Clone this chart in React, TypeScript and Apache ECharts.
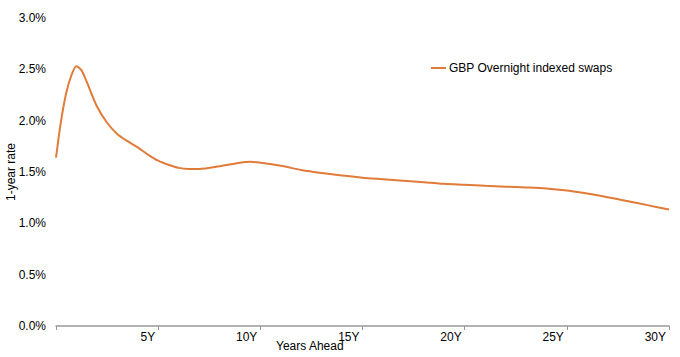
import React, { useEffect, useRef } from "react";
import * as echarts from "echarts";

const years = [0, 0.25, 0.5, 0.75, 1, 1.25, 1.5, 2, 2.5, 3, 3.5, 4, 4.5, 5, 5.5, 6, 6.5, 7, 8, 9, 9.5, 10, 11, 12, 13, 14, 15, 16, 17, 18, 19, 20, 21, 22, 23, 24, 25, 26, 27, 28, 29, 30];
const rates = [1.64, 2.0, 2.27, 2.44, 2.53, 2.49, 2.38, 2.14, 1.98, 1.87, 1.8, 1.74, 1.67, 1.61, 1.57, 1.54, 1.53, 1.53, 1.555, 1.59, 1.6, 1.59, 1.56, 1.52, 1.49, 1.465, 1.445, 1.43, 1.415, 1.4, 1.385, 1.375, 1.365, 1.357, 1.35, 1.34, 1.32, 1.29, 1.255, 1.215, 1.175, 1.135];
const seriesName = "GBP Overnight indexed swaps";
const xTicks = [0, 5, 10, 15, 20, 25, 30];
const yTicks = [0, 0.5, 1.0, 1.5, 2.0, 2.5, 3.0];

export default function App() {
  const ref = useRef<HTMLDivElement>(null);
  useEffect(() => {
    if (!ref.current) return;
    const chart = echarts.init(ref.current, undefined, { renderer: "svg" });
    const font = "'Liberation Sans', Arial, sans-serif";
    chart.setOption({
      animation: false,
      grid: { left: 56, right: 11, top: 18, bottom: 31, containLabel: false, outerBoundsMode: "none" },
      legend: {
        left: 426,
        top: 57,
        icon: "rect",
        itemWidth: 15,
        itemHeight: 2,
        itemGap: 4,
        textStyle: { fontFamily: font, fontSize: 12, color: "#000", padding: [0, 0, 0, -2] },
        data: [seriesName],
      },
      xAxis: {
        type: "value",
        min: xTicks[0],
        max: xTicks[xTicks.length - 1],
        interval: 5,
        axisLine: { show: true, lineStyle: { color: "#999", width: 1.5 } },
        axisTick: { show: true, length: 4, lineStyle: { color: "#999" } },
        splitLine: { show: false },
        axisLabel: {
          fontFamily: font,
          fontSize: 12,
          color: "#000",
          align: "right",
          padding: [0, 3, 0, 0],
          margin: 5,
          formatter: (v: number) => (v === 0 ? "" : `${v}Y`),
        },
      },
      yAxis: {
        type: "value",
        min: yTicks[0],
        max: yTicks[yTicks.length - 1],
        interval: 0.5,
        name: "1-year rate",
        nameLocation: "middle",
        nameGap: 39,
        nameMoveOverlap: false,
        nameTextStyle: { fontFamily: font, fontSize: 12, color: "#000" },
        axisLine: { show: false },
        axisTick: { show: false },
        splitLine: { show: false },
        axisLabel: {
          fontFamily: font,
          fontSize: 12,
          color: "#000",
          margin: 10,
          formatter: (v: number) => `${v.toFixed(1)}%`,
        },
      },
      graphic: [
        {
          type: "text",
          left: 276,
          top: 340,
          style: { text: "Years Ahead", fontFamily: font, fontSize: 12, fill: "#000" },
        },
      ],
      series: [
        {
          name: seriesName,
          type: "line",
          smooth: 0.3,
          showSymbol: false,
          lineStyle: { color: "#E07B39", width: 2 },
          itemStyle: { color: "#E07B39" },
          data: years.map((y, i) => [y, rates[i]]),
        },
      ],
    });
    return () => chart.dispose();
  }, []);
  return <div ref={ref} style={{ width: 680, height: 357, position: "absolute", left: 0, top: 0 }} />;
}
